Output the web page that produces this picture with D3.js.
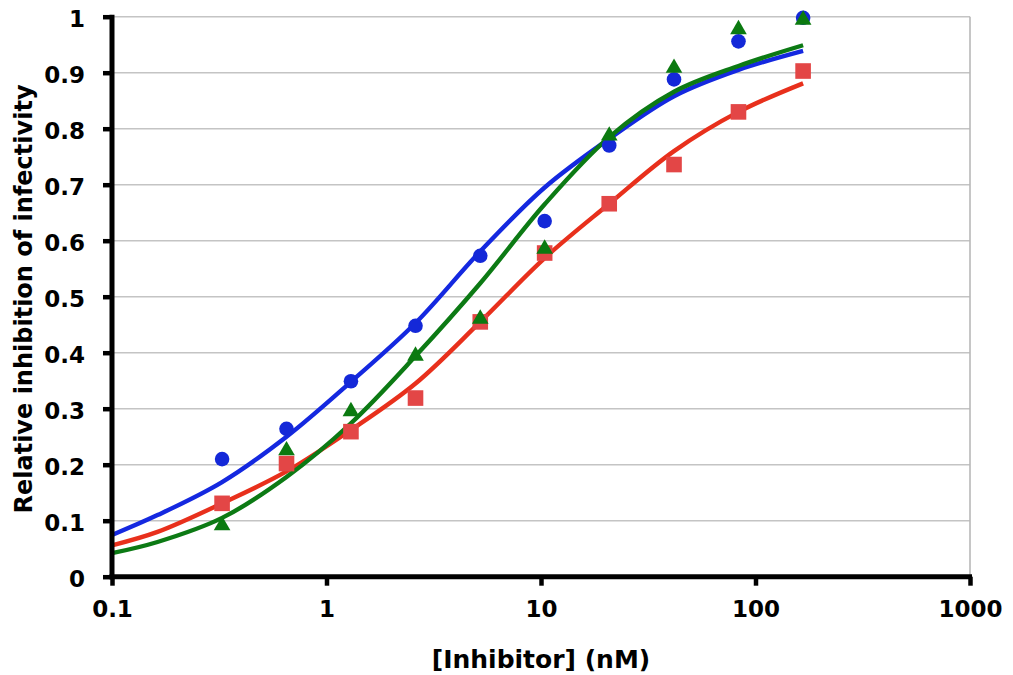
<!DOCTYPE html>
<html>
<head>
<meta charset="utf-8">
<script src="https://cdn.jsdelivr.net/npm/d3@7"></script>
<style>
  html, body { margin: 0; padding: 0; background: #fff; }
  svg { display: block; }
  text { font-family: "DejaVu Sans", Verdana, sans-serif; font-weight: bold; fill: #000; }
</style>
</head>
<body>
<svg id="chart" width="1013" height="675"></svg>
<script>
// Inhibitor concentrations (nM) of the measured points: two-fold dilutions
const doses = [0.326, 0.651, 1.30, 2.60, 5.21, 10.4, 20.8, 41.7, 83.3, 166.7];

// Measured relative inhibition for each series
const circleValues   = [0.210, 0.264, 0.349, 0.448, 0.573, 0.635, 0.770, 0.888, 0.956, 0.998];
const triangleValues = [0.094, 0.228, 0.298, 0.397, 0.463, 0.588, 0.790, 0.911, 0.980, 0.997];
const squareValues   = [0.131, 0.202, 0.259, 0.319, 0.455, 0.578, 0.666, 0.736, 0.830, 0.903];

// Fitted dose-response curves, sampled at these concentrations
const fitDoses = [0.1, 0.163, 0.326, 0.651, 1.30, 2.60, 5.21, 10.4, 20.8, 41.7, 83.3, 166.7];
const blueFit  = [0.0745, 0.110, 0.169, 0.250, 0.348, 0.453, 0.581, 0.695, 0.782, 0.858, 0.905, 0.939];
const redFit   = [0.056, 0.080, 0.131, 0.188, 0.262, 0.345, 0.455, 0.569, 0.666, 0.760, 0.830, 0.881];
const greenFit = [0.042, 0.062, 0.105, 0.178, 0.274, 0.394, 0.524, 0.665, 0.785, 0.866, 0.912, 0.949];

// Axis ticks
const xTicks = [0.1, 1, 10, 100, 1000];
const yTicks = [0, 0.1, 0.2, 0.3, 0.4, 0.5, 0.6, 0.7, 0.8, 0.9, 1];

const svg = d3.select("#chart");
const plotLeft = 112, plotRight = 970, plotTop = 16.7, plotBottom = 576.7;

const x = d3.scaleLog().domain([0.1, 1000]).range([plotLeft, plotRight]);
const y = d3.scaleLinear().domain([0, 1]).range([plotBottom, plotTop]);

// Horizontal gridlines
svg.append("g")
  .selectAll("line")
  .data(yTicks.filter(d => d > 0))
  .join("line")
  .attr("x1", plotLeft).attr("x2", plotRight)
  .attr("y1", d => y(d)).attr("y2", d => y(d))
  .attr("stroke", "#c4c4c4").attr("stroke-width", 1.6);

// Right border of the plot area
svg.append("line")
  .attr("x1", plotRight).attr("x2", plotRight)
  .attr("y1", plotTop).attr("y2", plotBottom)
  .attr("stroke", "#b8b8b8").attr("stroke-width", 1.6);

// Fitted curves
const line = d3.line()
  .x(d => x(d[0]))
  .y(d => y(d[1]))
  .curve(d3.curveCatmullRom.alpha(0.5));

const curves = [
  { values: blueFit,  color: "#1428e0" },
  { values: redFit,   color: "#e8301c" },
  { values: greenFit, color: "#0c7a14" }
];
curves.forEach(c => {
  svg.append("path")
    .datum(fitDoses.map((d, i) => [d, c.values[i]]))
    .attr("d", line)
    .attr("fill", "none")
    .attr("stroke", c.color)
    .attr("stroke-width", 4.4)
    .attr("stroke-linejoin", "round");
});

// Data markers
svg.append("g")
  .selectAll("rect")
  .data(doses.map((d, i) => [d, squareValues[i]]))
  .join("rect")
  .attr("x", d => x(d[0]) - 7.8)
  .attr("y", d => y(d[1]) - 7.8)
  .attr("width", 15.6).attr("height", 15.6)
  .attr("fill", "#e34646");

svg.append("g")
  .selectAll("circle")
  .data(doses.map((d, i) => [d, circleValues[i]]))
  .join("circle")
  .attr("cx", d => x(d[0]))
  .attr("cy", d => y(d[1]))
  .attr("r", 7.3)
  .attr("fill", "#1428d8");

const tri = d3.symbol().type(d3.symbolTriangle).size(120);
svg.append("g")
  .selectAll("path")
  .data(doses.map((d, i) => [d, triangleValues[i]]))
  .join("path")
  .attr("d", tri)
  .attr("transform", d => `translate(${x(d[0])},${y(d[1]) + 1.5})`)
  .attr("fill", "#0b7a10");

// Axes
const xAxis = d3.axisBottom(x)
  .tickValues(xTicks)
  .tickFormat(d3.format("~g"))
  .tickSize(9).tickPadding(15);
const gx = svg.append("g")
  .attr("transform", `translate(0,${plotBottom})`)
  .call(xAxis);

const yAxis = d3.axisLeft(y)
  .tickValues(yTicks)
  .tickFormat(d => d3.format("~g")(d))
  .tickSize(9).tickPadding(18);
const gy = svg.append("g")
  .attr("transform", `translate(${plotLeft},0)`)
  .call(yAxis);

[gx, gy].forEach(g => {
  g.select(".domain")
    .attr("stroke", "#000").attr("stroke-width", 5)
    .attr("d", g === gx ? `M${plotLeft - 2.5},0H${plotRight + 2}` : `M0,${plotBottom + 2.5}V${plotTop - 2}`);
  g.selectAll(".tick line").attr("stroke", "#000").attr("stroke-width", 4.5);
  g.selectAll(".tick text")
    .attr("font-size", 23)
    .attr("font-family", "'DejaVu Sans', Verdana, sans-serif")
    .attr("font-weight", "bold")
    .attr("fill", "#000");
});
gy.selectAll(".tick text").attr("dy", "0.42em");

// Axis titles
svg.append("text")
  .attr("x", 541)
  .attr("y", 668)
  .attr("text-anchor", "middle")
  .attr("font-size", 25)
  .text("[Inhibitor] (nM)");

svg.append("text")
  .attr("transform", "translate(32,299) rotate(-90)")
  .attr("text-anchor", "middle")
  .attr("font-size", 24)
  .text("Relative inhibition of infectivity");
</script>
</body>
</html>
